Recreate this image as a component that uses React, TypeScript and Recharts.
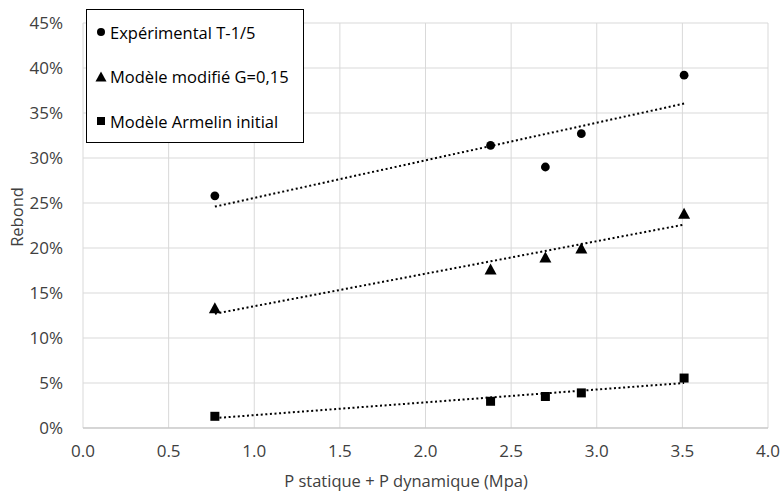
import React from 'react';
import { ScatterChart, Scatter, XAxis, YAxis, CartesianGrid } from 'recharts';

const pressure = [0.77, 2.38, 2.7, 2.91, 3.51];
const experimental = [25.8, 31.4, 29.0, 32.7, 39.2];
const modifie = [13.3, 17.6, 18.95, 19.95, 23.8];
const armelin = [1.3, 2.97, 3.5, 3.9, 5.55];

const trendX = [0.77, 3.51];
const trendExperimental = [24.6, 36.05];
const trendModifie = [12.7, 22.6];
const trendArmelin = [1.1, 5.0];

const xTicks = [0, 0.5, 1, 1.5, 2, 2.5, 3, 3.5, 4];
const yTicks = [0, 5, 10, 15, 20, 25, 30, 35, 40, 45];

const legendLabels = ['Expérimental T-1/5', 'Modèle modifié G=0,15', 'Modèle Armelin initial'];
const xLabel = 'P statique + P dynamique (Mpa)';
const yLabel = 'Rebond';

const toPoints = (xs: number[], ys: number[]) => xs.map((x, i) => ({ x, y: ys[i] }));

const FONT = '"Open Sans", sans-serif';

const Circle = (p: any) => <circle cx={p.cx} cy={p.cy} r={4.4} fill="#000" />;
const Tri = (p: any) => (
  <polygon
    points={`${p.cx},${p.cy - 6} ${p.cx + 6},${p.cy + 5} ${p.cx - 6},${p.cy + 5}`}
    fill="#000"
  />
);
const Sq = (p: any) => <rect x={p.cx - 4.5} y={p.cy - 4.5} width={9} height={9} fill="#000" />;
const NoDot = () => null;

const trendLine = { stroke: '#000', strokeWidth: 2, strokeDasharray: '2 2.6' };

export default function App() {
  return (
    <div style={{ position: 'absolute', left: 0, top: 0, width: 781, height: 492, background: '#fff' }}>
      <ScatterChart width={781} height={492} margin={{ top: 23, right: 13, left: 0, bottom: 0 }}>
        <CartesianGrid stroke="#d9d9d9" strokeWidth={1} />
        <XAxis
          type="number"
          dataKey="x"
          domain={[0, 4]}
          ticks={xTicks}
          tickFormatter={(v: number) => v.toFixed(1)}
          height={64}
          axisLine={{ stroke: '#bfbfbf' }}
          tickLine={false}
          tickSize={0}
          tickMargin={17}
          tick={{ fill: '#404040', fontSize: 17, fontFamily: FONT }}
          label={{
            content: () => (
              <text x={406} y={487} textAnchor="middle" fill="#404040" fontSize={16.5} fontFamily={FONT}>
                {xLabel}
              </text>
            ),
          }}
        />
        <YAxis
          type="number"
          dataKey="y"
          domain={[0, 45]}
          ticks={yTicks}
          tickFormatter={(v: number) => `${v}%`}
          width={83}
          axisLine={false}
          tickLine={false}
          tickSize={0}
          tickMargin={20}
          tick={{ fill: '#404040', fontSize: 17, fontFamily: FONT }}
          label={{
            content: () => (
              <text
                x={16}
                y={217}
                transform="rotate(-90 16 217)"
                textAnchor="middle"
                dominantBaseline="central"
                fill="#404040"
                fontSize={16.5}
                fontFamily={FONT}
              >
                {yLabel}
              </text>
            ),
          }}
        />
        <Scatter data={toPoints(trendX, trendExperimental)} line={trendLine} shape={NoDot} isAnimationActive={false} />
        <Scatter data={toPoints(trendX, trendModifie)} line={trendLine} shape={NoDot} isAnimationActive={false} />
        <Scatter data={toPoints(trendX, trendArmelin)} line={trendLine} shape={NoDot} isAnimationActive={false} />
        <Scatter data={toPoints(pressure, experimental)} shape={Circle} isAnimationActive={false} />
        <Scatter data={toPoints(pressure, modifie)} shape={Tri} isAnimationActive={false} />
        <Scatter data={toPoints(pressure, armelin)} shape={Sq} isAnimationActive={false} />
      </ScatterChart>
      <div
        style={{
          position: 'absolute',
          left: 86,
          top: 9,
          width: 216,
          height: 132,
          border: '1px solid #000',
          background: '#fff',
          fontFamily: FONT,
          fontSize: 16.5,
          color: '#000',
        }}
      >
        {legendLabels.map((label, i) => (
          <div
            key={label}
            style={{ position: 'absolute', left: 0, top: 11 + i * 44.5, height: 22, display: 'flex', alignItems: 'center', whiteSpace: 'nowrap' }}
          >
            <svg width={23} height={22} style={{ display: 'block' }}>
              {i === 0 && <circle cx={14} cy={11} r={4} fill="#000" />}
              {i === 1 && <polygon points="14,5.5 19.5,15.5 8.5,15.5" fill="#000" />}
              {i === 2 && <rect x={10} y={7} width={8} height={8} fill="#000" />}
            </svg>
            <span>{label}</span>
          </div>
        ))}
      </div>
    </div>
  );
}
